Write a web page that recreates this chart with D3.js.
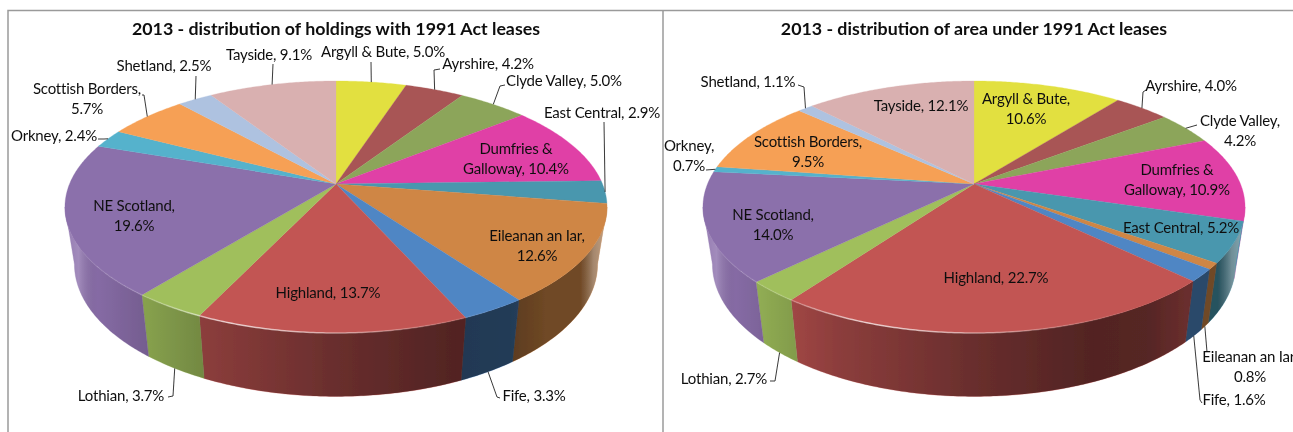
<!DOCTYPE html>
<html><head><meta charset="utf-8">
<script src="https://cdn.jsdelivr.net/npm/d3@7/dist/d3.min.js"></script>
<style>html,body{margin:0;padding:0;background:#fff;overflow:hidden}svg{display:block}
text{font-family:Lato,"Open Sans",sans-serif;fill:#111}</style></head><body>
<script>
const regions = ["Argyll & Bute","Ayrshire","Clyde Valley","Dumfries & Galloway","East Central","Eileanan an Iar","Fife","Highland","Lothian","NE Scotland","Orkney","Scottish Borders","Shetland","Tayside"];
const holdingsShare = [5.0,4.2,5.0,10.4,2.9,12.6,3.3,13.7,3.7,19.6,2.4,5.7,2.5,9.1];
const areaShare = [10.6,4.0,4.2,10.9,5.2,0.8,1.6,22.7,2.7,14.0,0.7,9.5,1.1,12.1];
const sliceColors = ["#e2e040","#a85554","#8ca55a","#e03fa6","#4a97ae","#cf8645","#5086c4","#c25553","#a0bf5c","#8b6fab","#55b2cc","#f6a055","#aec2e0","#d9b0b0"];
const titleLeft = "2013 - distribution of holdings with 1991 Act leases";
const titleRight = "2013 - distribution of area under 1991 Act leases";

// label placement: [centre x, first-line y, break after "Name," ?, leader elbows]
const layoutLeft = {
  "Argyll & Bute":[383,52,0,[[371,62]]],
  "Ayrshire":[488,64,0,[[434,70],[440,69]]],
  "Clyde Valley":[564,81,0,[[500,86],[505,85]]],
  "Dumfries & Galloway":[516,149,"Dumfries &|Galloway, "],
  "East Central":[602,113,0,[[604,122]]],
  "Eileanan an Iar":[537,236,1],
  "Fife":[534,396,0,[[497,397],[500,398]]],
  "Highland":[328,293,0],
  "Lothian":[121,396,0,[[173,396],[168,397]]],
  "NE Scotland":[134,206,1],
  "Orkney":[54,136,0,[[104,139],[98,139]]],
  "Scottish Borders":[87,89,1,[[144,95],[142,95]]],
  "Shetland":[164,66,0,[[196,76]]],
  "Tayside":[269,55,0,[[273,64]]]
};
const layoutRight = {
  "Argyll & Bute":[1026,99,1],
  "Ayrshire":[1191,86,0,[[1143,92],[1146,90]]],
  "Clyde Valley":[1240,121,1,[[1197,125]]],
  "Dumfries & Galloway":[1177,170,"Dumfries &|Galloway, "],
  "East Central":[1181,228,0],
  "Eileanan an Iar":[1250,357,1,[[1207,352]]],
  "Fife":[1234,400,0,[[1200,400],[1202,403]]],
  "Highland":[996,278,0],
  "Lothian":[724,379,0,[[775,381],[770,381]]],
  "NE Scotland":[773,215,1],
  "Orkney":[689,146,1,[[706,170]]],
  "Scottish Borders":[808,142,1],
  "Shetland":[748,82,0,[[804,87],[798,85]]],
  "Tayside":[921,106,0]
};

const W = 1293, H = 432;
const svg = d3.select("body").append("svg").attr("width",W).attr("height",H);
const defs = svg.append("defs");
defs.append("filter").attr("id","soft").attr("x",0).attr("y",0).attr("width","100%").attr("height","100%")
  .attr("filterUnits","userSpaceOnUse").append("feGaussianBlur").attr("stdDeviation",0.4);
const root = svg.append("g").attr("filter","url(#soft)");

// frame
const frame = root.append("g").attr("stroke","#9a9a9a").attr("stroke-width",1.5).attr("fill","none");
frame.append("path").attr("d",d3.line()([[8,432],[8,10.5],[1293,10.5]]));
frame.append("path").attr("d",d3.line()([[663,10],[663,432]]));

// perspective disc: circle → projected ellipse whose apex sits above its centre
const persp = 0.1825, depthA = 121.8, widthD = 266.5;
const rimTop = t => { const u=Math.sin(t), v=Math.cos(t), w=1+persp*v; return [widthD*u/w, -depthA*v/w]; };
const rimBot = t => { const p=rimTop(t); return [p[0]*0.965, p[1]*1.05+56]; };
const frontStart = Math.acos(-persp), frontEnd = 2*Math.PI-frontStart;
const angles = (a,b) => d3.range(0,Math.max(2,Math.ceil((b-a)/0.01))+1).map((i,_,r)=>a+(b-a)*i/(r.length-1));
const line = d3.line();

function drawPie(cx, cy, values, title, layout, id){
  const g = root.append("g").attr("transform",`translate(${cx},${cy})`);
  const pie = d3.pie().sort(null).value(d=>d)(values);
  const clamp = d => [Math.max(d.startAngle,frontStart), Math.min(d.endAngle,frontEnd)];

  // walls
  const wallPath = (a,b) => line(angles(a,b).map(rimTop).concat(angles(a,b).reverse().map(rimBot)))+"Z";
  g.append("g").selectAll("path").data(pie.filter(d=>clamp(d)[1]>clamp(d)[0])).join("path")
    .attr("d",d=>wallPath(...clamp(d))).attr("fill",d=>sliceColors[d.index])
    .attr("stroke",d=>sliceColors[d.index]).attr("stroke-width",0.3);
  // shading over the wall
  const grad = defs.append("linearGradient").attr("id","shade"+id).attr("gradientUnits","userSpaceOnUse")
    .attr("x1",-271).attr("x2",271).attr("y1",0).attr("y2",0);
  [[0,"#fff",.08],[.025,"#fff",.2],[.06,"#000",.04],[.15,"#000",.16],[.25,"#000",.28],[.5,"#000",.46],[.72,"#000",.58],[.82,"#000",.56],[.89,"#000",.46],[.95,"#000",.46],[.975,"#888",.6],[1,"#bbb",.5]]
    .forEach(s=>grad.append("stop").attr("offset",s[0]).attr("stop-color",s[1]).attr("stop-opacity",s[2]));
  g.append("path").attr("d",wallPath(frontStart,frontEnd)).attr("fill",`url(#shade${id})`);

  // top face
  g.append("g").selectAll("path").data(pie).join("path")
    .attr("d",d=>line([[0,0]].concat(angles(d.startAngle,d.endAngle).map(rimTop)))+"Z")
    .attr("fill",d=>sliceColors[d.index]).attr("stroke",d=>sliceColors[d.index]).attr("stroke-width",0.3);

  // specular rim
  const rim = defs.append("linearGradient").attr("id","rim"+id).attr("gradientUnits","userSpaceOnUse")
    .attr("x1",-271).attr("x2",271).attr("y1",0).attr("y2",0);
  [[0,0],[.15,.15],[.3,.7],[.42,.55],[.62,.25],[.8,0],[1,0]]
    .forEach(s=>rim.append("stop").attr("offset",s[0]).attr("stop-color","#fff").attr("stop-opacity",s[1]));
  g.append("path").attr("d",line(angles(frontStart,frontEnd).map(rimTop))).attr("fill","none")
    .attr("stroke",`url(#rim${id})`).attr("stroke-width",1.5);

  // leaders
  const ann = root.append("g");
  pie.forEach(d=>{
    const l = layout[regions[d.index]];
    if(!l[3]) return;
    const mid = (d.startAngle+d.endAngle)/2;
    const front = mid>frontStart+0.1 && mid<frontEnd-0.1;
    const p = (front?rimBot:rimTop)(mid);
    const pts = [[cx+p[0],cy+p[1]]].concat(l[3]);
    ann.append("path").attr("d",line(pts)).attr("fill","none").attr("stroke","#222").attr("stroke-width",0.9);
  });
  // labels
  pie.forEach(d=>{
    const name = regions[d.index], l = layout[name], v = d.value.toFixed(1)+"%";
    let lines;
    if(typeof l[2]==="string"){ const s=l[2].split("|"); lines=[s[0], s[1]+v]; }
    else lines = l[2] ? [name+",", v] : [name+", "+v];
    lines.forEach((t,i)=>ann.append("text").attr("x",l[0]).attr("y",l[1]+i*19.5).attr("dy","0.36em")
      .attr("text-anchor","middle").attr("font-size",15).attr("letter-spacing",-0.2).text(t));
  });
  ann.append("text").attr("x",cx).attr("y",29).attr("dy","0.36em").attr("text-anchor","middle")
    .attr("font-size",17.8).attr("font-weight",700).text(title);
}
drawPie(336,184,holdingsShare,titleLeft,layoutLeft,"L");
drawPie(974,184,areaShare,titleRight,layoutRight,"R");
</script></body></html>
